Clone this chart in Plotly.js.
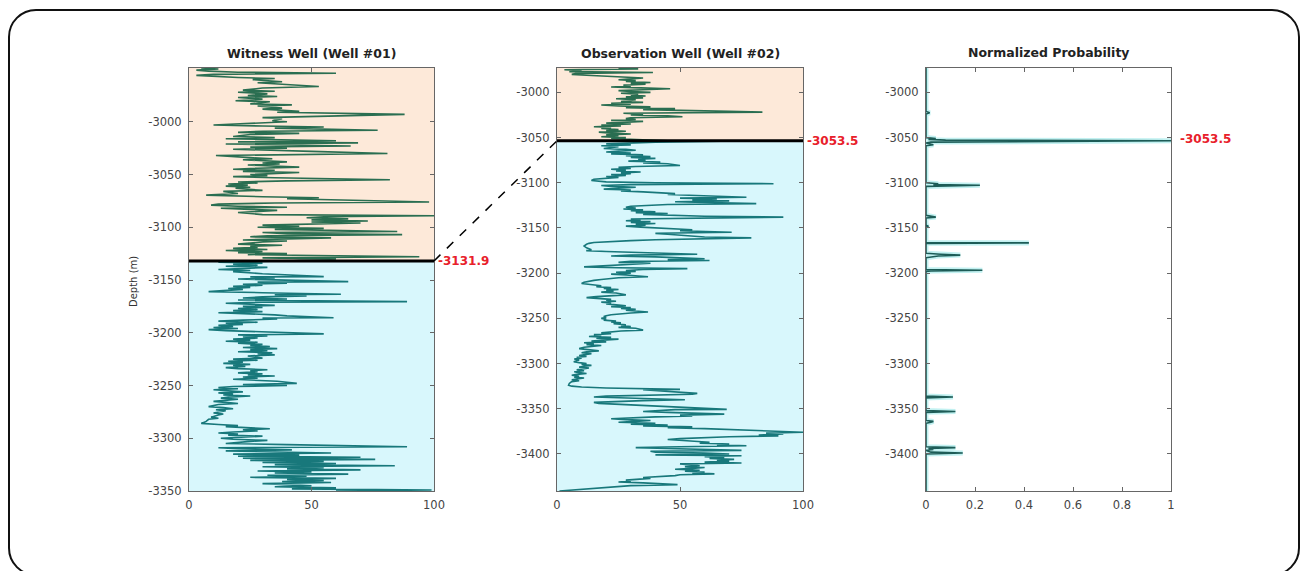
<!DOCTYPE html>
<html>
<head>
<meta charset="utf-8">
<script src="https://cdn.plot.ly/plotly-3.0.1.min.js"></script>
<style>
  html, body { margin:0; padding:0; background:#fff; width:1309px; height:571px; overflow:hidden; }
  #frame { position:absolute; left:8px; top:9px; width:1292px; height:567px; border:2px solid #111; border-radius:28px; box-sizing:border-box; }
  #chart { position:absolute; left:0; top:0; width:1309px; height:571px; }
</style>
</head>
<body>
<div id="frame"></div>
<div id="chart"></div>
<script>
// ---------------- DATA ----------------
// Witness well (#01): [depth m, log value] above the correlated boundary
const well1Upper = [
[-2949,5],[-2950,12],[-2951,3],[-2952,8],[-2953,20],[-2954,60],[-2955,10],[-2956,3],[-2958,20],[-2959,35],
[-2960,26],[-2962,38],[-2963,28],[-2965,40],[-2966.5,53],[-2968,30],[-2970,22],[-2971,35],[-2972,20],[-2973.5,32],
[-2975,24],[-2976,36],[-2977,20],[-2978.5,30],[-2980,19],[-2981,33],[-2983,25],[-2984,42],[-2985,28],[-2987,38],
[-2988,30],[-2990,45],[-2991,36],[-2993,88],[-2994,70],[-2995,40],[-2996,30],[-2997,38],[-2999,34],[-3000,40],
[-3001,28],[-3003,10],[-3004,30],[-3005,55],[-3006,35],[-3008,77],[-3009,30],[-3010,20],[-3011,45],[-3012,25],
[-3014,18],[-3015,35],[-3016,15],[-3018,60],[-3019,20],[-3020,69],[-3021,15],[-3022,35],[-3023,66],[-3024,25],
[-3025,40],[-3026,18],[-3027,30],[-3028,50],[-3030,81],[-3031,30],[-3032,11],[-3034,25],[-3035,34],[-3036,22],
[-3038,40],[-3039,30],[-3040,37],[-3041,24],[-3043,45],[-3044,28],[-3045,18],[-3046,35],[-3047,22],[-3048,45],
[-3050,25],[-3051,32],[-3052,18],[-3053,35],[-3055,82],[-3056,40],[-3057,20],[-3058,28],[-3059,16],[-3060,24],
[-3061,15],[-3062,25],[-3063,19],[-3065,30],[-3066,14],[-3068,20],[-3069.5,7],[-3071,30],[-3072,53],[-3073,40],
[-3074,60],[-3076,98],[-3077,35],[-3078,12],[-3079,9],[-3080,20],[-3081,40],[-3082,13],[-3084,36],[-3085,28],
[-3086,20],[-3088,30],[-3089,100],[-3090,55],[-3091,48],[-3092,65],[-3093,50],[-3094,73],[-3095,50],[-3096,70],
[-3097,42],[-3098,30],[-3099,45],[-3100,28],[-3101,55],[-3102,35],[-3104,85],[-3105,30],[-3106,40],[-3107,87],
[-3108,32],[-3109,25],[-3110,58],[-3111,35],[-3112,22],[-3113,40],[-3114,30],[-3116,20],[-3117,38],[-3118,25],
[-3119,28],[-3120,18],[-3121,32],[-3122,15],[-3123,30],[-3124,20],[-3125,40],[-3126,24],[-3128,94],[-3129,30],
[-3130,60],[-3131.9,40]
];
// Witness well (#01) below the boundary
const well1Lower = [
[-3131.9,40],[-3133,12],[-3134,30],[-3135,18],[-3136,28],[-3137,15],[-3138,32],[-3139,22],[-3140,12],[-3141,25],
[-3142,18],[-3144,30],[-3145,40],[-3146.8,55],[-3147,25],[-3148,35],[-3149,20],[-3150,45],[-3151.5,65],[-3152,28],
[-3153,40],[-3154,22],[-3155,30],[-3156,18],[-3157,25],[-3158,16],[-3159,22],[-3160,14],[-3161,8],[-3162,30],
[-3163.5,62],[-3164,35],[-3165,48],[-3166,30],[-3167,22],[-3168,40],[-3169,20],[-3170.5,89],[-3171,30],[-3172,15],
[-3173,25],[-3174,35],[-3175,22],[-3176,30],[-3177,20],[-3178,28],[-3179,18],[-3180,30],[-3181,12],[-3182,25],
[-3183,35],[-3184,40],[-3185.7,59],[-3186,30],[-3187,36],[-3188,22],[-3189,12],[-3190,28],[-3191,15],[-3192,22],
[-3193,12],[-3194,18],[-3195,10],[-3196,20],[-3197,8],[-3198,15],[-3199,30],[-3201,55],[-3202,20],[-3203,32],
[-3204,22],[-3205,28],[-3206,18],[-3207,25],[-3208,15],[-3209,28],[-3210,20],[-3211,30],[-3212,25],[-3213,33],
[-3214,22],[-3215,36],[-3216,25],[-3217,32],[-3218,20],[-3219,34],[-3220,28],[-3221,35],[-3222,24],[-3224,30],
[-3225,18],[-3226,28],[-3227,16],[-3228,22],[-3229,14],[-3230,25],[-3231,18],[-3232,23],[-3233,15],[-3234,20],
[-3235,32],[-3236,25],[-3237,28],[-3238,20],[-3239,30],[-3240,24],[-3241,35],[-3242,22],[-3243,28],[-3244,18],
[-3246,36],[-3248,44],[-3249,22],[-3250,40],[-3251,18],[-3252,12],[-3253,20],[-3254,10],[-3255,16],[-3256,22],
[-3257,12],[-3258,18],[-3259,14],[-3260,25],[-3261,16],[-3262,13],[-3263,20],[-3265,10],[-3266,15],[-3267,20],
[-3268,12],[-3270,8],[-3271,14],[-3272,18],[-3273,11],[-3274,15],[-3276,10],[-3277,14],[-3278,12],[-3280,9],
[-3281,12],[-3282,8],[-3284,7],[-3285.9,5],[-3287,12],[-3288,20],[-3289,15],[-3290,25],[-3291,33],[-3292,22],
[-3293,28],[-3294,18],[-3295,12],[-3296,20],[-3297,16],[-3298,30],[-3299,22],[-3300,13],[-3301,18],[-3302,32],
[-3303,25],[-3305,15],[-3306,40],[-3308,89],[-3309,12],[-3310,20],[-3311,42],[-3312,15],[-3313,35],[-3314,58],
[-3315,18],[-3316,45],[-3317,20],[-3318,70],[-3319,22],[-3320,76],[-3321,25],[-3322,55],[-3323,30],[-3324,60],
[-3325,35],[-3326,84],[-3327,30],[-3328,55],[-3329,40],[-3330,70],[-3331,28],[-3332,50],[-3333,35],[-3334,65],
[-3335,32],[-3336,48],[-3337,25],[-3338,60],[-3339,40],[-3340,55],[-3341,38],[-3342,58],[-3343,30],[-3344,45],
[-3345,50],[-3346,35],[-3347,60],[-3348,42],[-3349,99],[-3350,60]
];
// Observation well (#02) above the boundary
const well2Upper = [
[-2973,25],[-2974,33],[-2975,3],[-2976,10],[-2977,5],[-2978,39],[-2979,8],[-2980,6],[-2981,12],[-2982,20],
[-2983,28],[-2984,35],[-2985,30],[-2986,25],[-2987,32],[-2988,28],[-2989,38],[-2990,30],[-2991,36],[-2992,27],
[-2993,30],[-2994,22],[-2995,34],[-2996,46],[-2997,35],[-2998,25],[-2999,30],[-3000,38],[-3001,26],[-3002,33],
[-3003,30],[-3004,36],[-3005,28],[-3006,35],[-3007,24],[-3008,32],[-3009,30],[-3010,26],[-3011,35],[-3012,22],
[-3013,30],[-3014,18],[-3015,25],[-3016,38],[-3017,28],[-3018,48],[-3019,35],[-3020,60],[-3021,70],[-3021.8,83.5],
[-3022.5,60],[-3023,27],[-3024,35],[-3025,30],[-3026,45],[-3027,51],[-3028,30],[-3029,28],[-3030,32],[-3031,22],
[-3032,35],[-3033,25],[-3034,20],[-3035,30],[-3036,18],[-3037,26],[-3038,15],[-3039,22],[-3040,18],[-3041,25],
[-3042,20],[-3043,28],[-3044,17],[-3045,22],[-3046,30],[-3047,20],[-3048,25],[-3049,18],[-3050,28],[-3051,22],
[-3052,30],[-3053.5,45]
];
// Observation well (#02) below the boundary
const well2Lower = [
[-3053.5,45],[-3054,67],[-3055,40],[-3056,28],[-3057,20],[-3058,30],[-3059,18],[-3060,25],[-3062,19],[-3063,28],
[-3064,32],[-3065,25],[-3066,20],[-3067,30],[-3068,22],[-3069,35],[-3070,28],[-3071,38],[-3072,30],[-3073,40],
[-3074,33],[-3075,36],[-3076,29],[-3077,42],[-3078,35],[-3079,45],[-3080.8,50],[-3082,32],[-3083,25],[-3084,30],
[-3085,22],[-3086,28],[-3087,24],[-3088,34],[-3089,26],[-3090,30],[-3091,22],[-3092,28],[-3093,20],[-3094,25],
[-3095,18],[-3096,15],[-3097.5,14],[-3099,20],[-3100,40],[-3101,88],[-3102,30],[-3103,18],[-3104,22],[-3105,32],
[-3106,25],[-3107,19],[-3108,30],[-3109,26],[-3110,35],[-3111,40],[-3112,48],[-3113,45],[-3114,55],[-3115,60],
[-3116,77],[-3117,50],[-3118,65],[-3119,55],[-3120,70],[-3121,48],[-3122,60],[-3123,81],[-3124,45],[-3125,35],
[-3126,30],[-3127,28],[-3128,32],[-3129,27],[-3130,35],[-3131,30],[-3132,40],[-3133,32],[-3134,45],[-3135,35],
[-3136,50],[-3137,60],[-3138,92],[-3139,40],[-3140,30],[-3141,34],[-3142,28],[-3143,38],[-3144,30],[-3145,40],
[-3146,32],[-3147,36],[-3148,28],[-3149,34],[-3150,40],[-3151,45],[-3152,55],[-3153,50],[-3154.7,71],[-3155.5,48],
[-3156,40],[-3157,45],[-3158,50],[-3159,55],[-3160,60],[-3161,79],[-3162,55],[-3163,40],[-3164,30],[-3165,20],
[-3166,15],[-3167,13],[-3168,12],[-3170,11],[-3172,12],[-3174,14],[-3175,11.9],[-3176,20],[-3177,35],[-3178,45],
[-3179,57],[-3180,30],[-3181,22],[-3182,40],[-3183,50],[-3184,60],[-3185,45],[-3186,62],[-3187,30],[-3188,25],
[-3189,38],[-3190,30],[-3191,25],[-3192,18],[-3193,11],[-3194,25],[-3195,53],[-3196,35],[-3197,28],[-3198,32],
[-3199,24],[-3200,30],[-3201,22],[-3202,28],[-3203,32],[-3204,37],[-3205,25],[-3206,20],[-3207,18],[-3208,15],
[-3209,12],[-3210,11],[-3211.5,10],[-3213,15],[-3214,18],[-3215,16],[-3216,22],[-3217,19],[-3218,25],[-3219,20],
[-3220,23],[-3221,18],[-3222,24],[-3224,28],[-3225,20],[-3226,16],[-3227,12],[-3228,18],[-3229,22],[-3230,20],
[-3231,24],[-3232,18],[-3233,22],[-3234,20],[-3235,25],[-3236,28],[-3237,22],[-3238,30],[-3239,26],[-3240,32],
[-3241,28],[-3243,37],[-3244,30],[-3245,25],[-3246,22],[-3247,20],[-3248,19],[-3249,20],[-3250,18],[-3251,20],
[-3252,19],[-3253,24],[-3254,22],[-3255,26],[-3256,23],[-3257,28],[-3258,26],[-3259,30],[-3260,25],[-3261,32],
[-3263,35],[-3264,26],[-3265,20],[-3266,18],[-3267,22],[-3268,15],[-3269,18],[-3270,13],[-3271,22],[-3272,16],
[-3273,25],[-3274,18],[-3275,14],[-3276,20],[-3277,11],[-3278,15],[-3279,12],[-3280,18],[-3281,14],[-3282,11],
[-3283.5,9],[-3285,14],[-3286,17],[-3287,12],[-3288,10],[-3289,14],[-3290,11],[-3291,9],[-3292,12],[-3293,8],
[-3294,10],[-3295,7],[-3296,9],[-3298,6.8],[-3299,9],[-3300,12],[-3301,10],[-3302,14],[-3303,11],[-3304,9],
[-3305,13],[-3306,10],[-3307,8],[-3308,11],[-3309,7],[-3310,9],[-3311,12],[-3312,8],[-3313,6],[-3314,9],
[-3315,7],[-3316,11],[-3317,8],[-3318,6],[-3319,9],[-3320,6],[-3322,5],[-3324,4.7],[-3325,6],[-3326,10],
[-3327,20],[-3328.6,50],[-3329,35],[-3330,40],[-3331,45],[-3332,50],[-3333,57],[-3334,55],[-3335,30],[-3336,20],
[-3337,15],[-3338,25],[-3339,40],[-3340,52],[-3341,35],[-3342,20],[-3343,15],[-3344,17],[-3345,25],[-3346,35],
[-3347,45],[-3348,50],[-3349,55],[-3350.7,69],[-3351,48],[-3352,40],[-3353,35],[-3354,45],[-3355,55],[-3356,68],
[-3357,50],[-3358,55],[-3359,40],[-3360,30],[-3361,22],[-3362,28],[-3363,38],[-3364,32],[-3365,25],[-3366,40],
[-3367,30],[-3368,45],[-3369,35],[-3370,55],[-3371,45],[-3372,60],[-3373,70],[-3374,80],[-3375,90],[-3376,100],
[-3377,85],[-3378,92],[-3379,82],[-3380,90],[-3381,70],[-3382,55],[-3383,50],[-3384,45],[-3385,50],[-3386,55],
[-3387,62],[-3388,58],[-3389,70],[-3390,65],[-3391,77],[-3392,50],[-3393,32],[-3394,45],[-3395,60],[-3396,75],
[-3397,38],[-3398,40],[-3399,60],[-3400,70],[-3401,40],[-3402,75],[-3403,60],[-3404,68],[-3405,62],[-3406,72],
[-3407,65],[-3408,70],[-3409,60],[-3410,75],[-3411,50],[-3412,55],[-3413,58],[-3414,52],[-3415,60],[-3416,55],
[-3417,48],[-3418,58],[-3419,52],[-3420,60],[-3421,55],[-3422,64],[-3423,50],[-3424,48],[-3425,40],[-3426,35],
[-3427,38],[-3428,32],[-3429,28],[-3430,30],[-3431,25],[-3432,35],[-3433,42],[-3434,49],[-3435,30],[-3436,25],
[-3437,20],[-3438,15],[-3439,10],[-3440,5],[-3441,1]
];
// Normalized probability vs depth for the observation well
const probDepth = [-2973,-3020,-3021,-3022.6,-3024,-3050,-3051,-3052,-3052.8,-3053.5,-3054.2,-3055,-3056,-3058,-3059,
  -3100,-3101,-3102,-3102.7,-3103.5,-3104,-3136,-3137,-3138,-3139,-3147,-3148,-3149,-3166,-3166.5,-3167,
  -3178,-3179,-3180,-3181,-3182,-3183,-3196,-3196.8,-3197.5,-3198,-3336,-3337,-3338,-3352,-3353,-3354,
  -3363,-3364,-3365,-3366,-3392,-3393,-3394,-3395,-3396,-3398,-3399,-3400,-3441];
const probValue = [0,0,0,0.015,0,0,0.04,0.01,0.08,1.0,0.05,0.02,0,0.03,0,
  0,0.05,0.03,0.22,0.04,0,0,0.03,0.04,0,0,0.01,0,0,0.42,0,
  0,0.06,0.14,0.05,0.03,0,0,0.23,0.02,0,0,0.11,0,0,0.12,0,
  0,0.03,0.02,0,0,0.12,0.01,0.03,0,0.02,0.15,0,0];

const boundary1 = -3131.9;   // witness well marker
const boundary2 = -3053.5;   // observation well marker

const titles = ['Witness Well (Well #01)', 'Observation Well (Well #02)', 'Normalized Probability'];
const yTicks1 = [-3000,-3050,-3100,-3150,-3200,-3250,-3300,-3350];
const yTicks2 = [-3000,-3050,-3100,-3150,-3200,-3250,-3300,-3350,-3400];
const yTickText1 = ['-3000','-3050','-3100','-3150','-3200','-3250','-3300','-3350'];
const yTickText2 = ['-3000','-3050','-3100','-3150','-3200','-3250','-3300','-3350','-3400'];
const xTicksLog = [0,50,100];
const xTickTextLog = ['0','50','100'];
const xTicksProb = [0,0.2,0.4,0.6,0.8,1];
const xTickTextProb = ['0','0.2','0.4','0.6','0.8','1'];

// ---------------- LAYOUT ----------------
const W = 1309, H = 571;
const dom1 = [189/W, 434/W], dom2 = [557/W, 803/W], dom3 = [926/W, 1171/W];
const ydom = [1 - 491/H, 1 - 68/H];
const yr1 = [-3350, -2949], yr2 = [-3441, -2973];

const upperCol = '#2a6e51', lowerCol = '#18787b';
const peach = '#fde9d9', cyan = '#d8f7fc';
const FAM = 'DejaVu Sans, Verdana, sans-serif';
const tfont = {family:FAM, size:11.5, color:'#444'};

const col = (arr, i) => arr.map(p => p[i]);
const logTrace = (pts, color, xa, ya) => ({x: col(pts,1), y: col(pts,0), type:'scatter', mode:'lines',
  line:{color:color, width:1.6}, xaxis:xa, yaxis:ya, hoverinfo:'skip'});

const data = [
  logTrace(well1Upper, upperCol, 'x', 'y'),
  logTrace(well1Lower, lowerCol, 'x', 'y'),
  logTrace(well2Upper, upperCol, 'x2', 'y2'),
  logTrace(well2Lower, lowerCol, 'x2', 'y2'),
  {x: probValue, y: probDepth, type:'scatter', mode:'lines', line:{color:'rgba(120,225,225,0.45)', width:5}, xaxis:'x3', yaxis:'y3', hoverinfo:'skip'},
  {x: probValue, y: probDepth, type:'scatter', mode:'lines', line:{color:'#1d5c57', width:1.6}, xaxis:'x3', yaxis:'y3', hoverinfo:'skip'}
];

const axisBase = {showline:true, mirror:'ticks', linecolor:'#666', linewidth:1, ticks:'inside', ticklen:4,
  tickcolor:'#666', tickfont:tfont, showgrid:false, zeroline:false, fixedrange:true};

const mk = (extra) => Object.assign({}, axisBase, extra);

function yPaper(val, yr) { return ydom[0] + (val - yr[0]) / (yr[1] - yr[0]) * (ydom[1] - ydom[0]); }

const shapes = [
  {type:'rect', xref:'x domain', yref:'y', x0:0, x1:1, y0:boundary1, y1:yr1[1], fillcolor:peach, line:{width:0}, layer:'below'},
  {type:'rect', xref:'x domain', yref:'y', x0:0, x1:1, y0:yr1[0], y1:boundary1, fillcolor:cyan, line:{width:0}, layer:'below'},
  {type:'rect', xref:'x2 domain', yref:'y2', x0:0, x1:1, y0:boundary2, y1:yr2[1], fillcolor:peach, line:{width:0}, layer:'below'},
  {type:'rect', xref:'x2 domain', yref:'y2', x0:0, x1:1, y0:yr2[0], y1:boundary2, fillcolor:cyan, line:{width:0}, layer:'below'},
  {type:'line', xref:'x domain', yref:'y', x0:0, x1:1, y0:boundary1, y1:boundary1, line:{color:'#000', width:3}},
  {type:'line', xref:'x2 domain', yref:'y2', x0:0, x1:1, y0:boundary2, y1:boundary2, line:{color:'#000', width:3}},
  {type:'line', xref:'paper', yref:'paper', x0:dom1[1], x1:dom2[0], y0:yPaper(boundary1, yr1), y1:yPaper(boundary2, yr2),
    line:{color:'#000', width:1.5, dash:'dash'}}
];

const redFont = {family:FAM, size:12, color:'#e8202a', weight:'bold'};
const titleFont = {family:FAM, size:12.5, color:'#222', weight:'bold'};
const annotations = [
  {xref:'paper', yref:'paper', x:(dom1[0]+dom1[1])/2, y:1-53/H, xanchor:'center', yanchor:'middle', text:titles[0], showarrow:false, font:titleFont},
  {xref:'paper', yref:'paper', x:(dom2[0]+dom2[1])/2, y:1-53/H, xanchor:'center', yanchor:'middle', text:titles[1], showarrow:false, font:titleFont},
  {xref:'paper', yref:'paper', x:(dom3[0]+dom3[1])/2, y:1-52/H, xanchor:'center', yanchor:'middle', text:titles[2], showarrow:false, font:titleFont},
  {xref:'paper', yref:'paper', x:133/W, y:1-282/H, xanchor:'center', yanchor:'middle', text:'Depth (m)', textangle:-90, showarrow:false,
    font:{family:FAM, size:10, color:'#333'}},
  {xref:'x', yref:'y', x:100, y:boundary1, xanchor:'left', yanchor:'middle', xshift:2, text:boundary1.toFixed(1), showarrow:false, font:redFont},
  {xref:'x2', yref:'y2', x:100, y:boundary2, xanchor:'left', yanchor:'middle', xshift:2, text:boundary2.toFixed(1), showarrow:false, font:redFont},
  {xref:'x3', yref:'y3', x:1, y:boundary2, xanchor:'left', yanchor:'middle', xshift:7, yshift:2, text:boundary2.toFixed(1), showarrow:false, font:redFont}
];

const layout = {
  width:W, height:H, margin:{l:0, r:0, t:0, b:0}, showlegend:false,
  paper_bgcolor:'rgba(0,0,0,0)', plot_bgcolor:'rgba(0,0,0,0)',
  xaxis: mk({domain:dom1, range:[0,100], tickvals:xTicksLog, ticktext:xTickTextLog, anchor:'y', ticklabelstandoff:3}),
  yaxis: mk({domain:ydom, range:yr1, tickvals:yTicks1, ticktext:yTickText1, anchor:'x', ticklabelstandoff:4}),
  xaxis2: mk({domain:dom2, range:[0,100], tickvals:xTicksLog, ticktext:xTickTextLog, anchor:'y2', ticklabelstandoff:3}),
  yaxis2: mk({domain:ydom, range:yr2, tickvals:yTicks2, ticktext:yTickText2, anchor:'x2', ticklabelstandoff:4}),
  xaxis3: mk({domain:dom3, range:[0,1], tickvals:xTicksProb, ticktext:xTickTextProb, anchor:'y3', ticklabelstandoff:3}),
  yaxis3: mk({domain:ydom, range:yr2, tickvals:yTicks2, ticktext:yTickText2, anchor:'x3', ticklabelstandoff:4}),
  shapes:shapes, annotations:annotations
};

Plotly.newPlot('chart', data, layout, {staticPlot:true, displayModeBar:false});
</script>
</body>
</html>
